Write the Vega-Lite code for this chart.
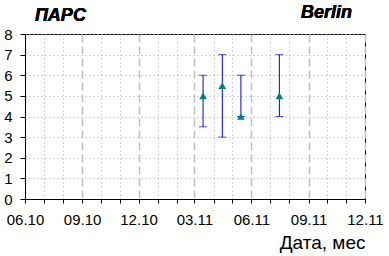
{
  "$schema": "https://vega.github.io/schema/vega-lite/v6.json",
  "width": 340,
  "height": 165,
  "autosize": {"type": "none"},
  "padding": {"left": 25, "top": 34, "right": 24, "bottom": 57},
  "background": "white",
  "config": {
    "view": {"stroke": "black", "strokeWidth": 1},
    "font": "Liberation Sans"
  },
  "data": {
    "values": [
      {"date": "2011-03-15", "v": 5, "lo": 3.5, "hi": 6},
      {"date": "2011-04-15", "v": 5.5, "lo": 3, "hi": 7},
      {"date": "2011-05-15", "v": 4, "lo": 4, "hi": 6},
      {"date": "2011-07-16", "v": 5, "lo": 4, "hi": 7}
    ]
  },
  "encoding": {
    "x": {
      "field": "date",
      "type": "temporal",
      "scale": {
        "type": "utc",
        "domain": [
          {"year": 2010, "month": 6, "date": 1, "utc": true},
          {"year": 2011, "month": 12, "date": 1, "utc": true}
        ],
        "nice": false
      },
      "axis": {
        "title": "Дата, мес",
        "titleAnchor": "end",
        "titleAlign": "right",
        "titleFontSize": 19,
        "titleFontWeight": "normal",
        "titleColor": "black",
        "titlePadding": 6,
        "titleFont": "Liberation Sans",
        "tickCount": {"interval": "month", "step": 1},
        "labelExpr": "utcmonth(datum.value) % 3 == 2 ? utcFormat(datum.value, '%m.%y') : ''",
        "labelFontSize": 15,
        "labelColor": "black",
        "labelFont": "Liberation Sans",
        "labelPadding": 9,
        "labelDx": -5,
        "labelFlush": false,
        "labelOverlap": false,
        "labelBound": false,
        "tickSize": 4,
        "tickColor": "black",
        "domainColor": "black",
        "grid": true,
        "gridColor": {"condition": {"test": "utcmonth(datum.value) % 3 == 2", "value": "#c0c0c0"}, "value": "#a8a8a8"},
        "gridDash": {"condition": {"test": "utcmonth(datum.value) % 3 == 2", "value": [8, 4]}, "value": [1, 3]},
        "gridWidth": {"condition": {"test": "utcmonth(datum.value) % 3 == 2", "value": 1.5}, "value": 1}
      }
    },
    "y": {
      "type": "quantitative",
      "scale": {"domain": [0, 8], "nice": false},
      "axis": {
        "title": null,
        "values": [0, 1, 2, 3, 4, 5, 6, 7, 8],
        "labelFontSize": 15,
        "labelColor": "black",
        "labelFont": "Liberation Sans",
        "labelPadding": 8,
        "tickSize": 5,
        "tickColor": "black",
        "domainColor": "black",
        "grid": true,
        "gridColor": "#a8a8a8",
        "gridDash": [1, 3]
      }
    }
  },
  "layer": [
    {
      "mark": {"type": "rule", "color": "#0000ee", "strokeWidth": 1},
      "encoding": {"y": {"field": "lo", "type": "quantitative"}, "y2": {"field": "hi"}}
    },
    {
      "mark": {"type": "tick", "orient": "horizontal", "color": "#0000ee", "size": 8, "thickness": 1},
      "encoding": {"y": {"field": "lo", "type": "quantitative"}}
    },
    {
      "mark": {"type": "tick", "orient": "horizontal", "color": "#0000ee", "size": 8, "thickness": 1},
      "encoding": {"y": {"field": "hi", "type": "quantitative"}}
    },
    {
      "mark": {"type": "point", "shape": "triangle-up", "filled": true, "color": "#008080", "opacity": 1, "size": 60},
      "encoding": {"y": {"field": "v", "type": "quantitative"}}
    },
    {
      "mark": {"type": "text", "text": "Berlin", "align": "left", "baseline": "alphabetic", "fontSize": 18, "fontWeight": "bold", "fontStyle": "italic", "font": "Liberation Sans", "color": "black", "dy": -16},
      "encoding": {
        "x": {"datum": {"year": 2011, "month": 8, "date": 20, "utc": true}},
        "y": {"datum": 8}
      }
    },
    {
      "mark": {"type": "text", "text": "ПАРС", "align": "left", "baseline": "alphabetic", "fontSize": 18, "fontWeight": "bold", "fontStyle": "italic", "font": "Liberation Sans", "color": "black", "dy": -13},
      "encoding": {
        "x": {"datum": {"year": 2010, "month": 6, "date": 17, "utc": true}},
        "y": {"datum": 8}
      }
    }
  ]
}
